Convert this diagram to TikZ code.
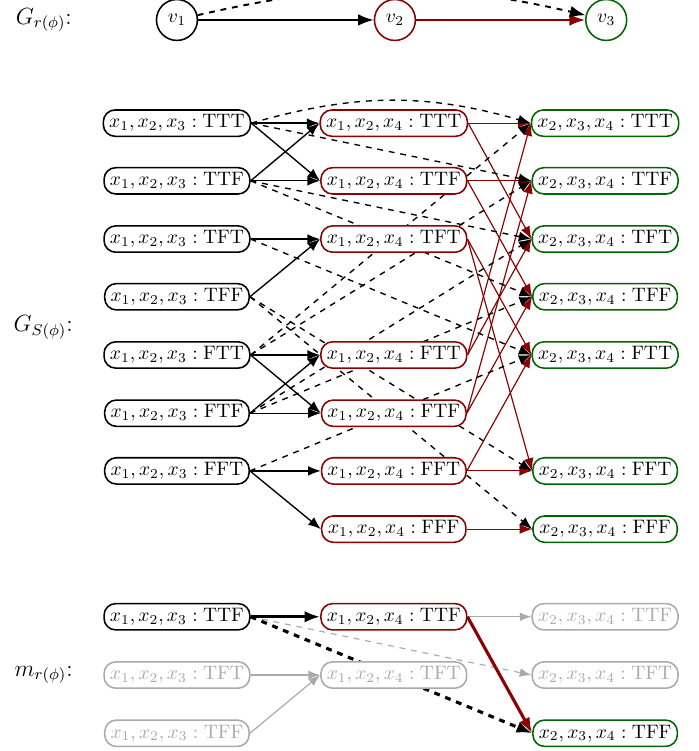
\documentclass[tikz,border=0pt]{standalone}
\usepackage{xcolor}
\usetikzlibrary{arrows.meta,backgrounds}
\definecolor{PhiRed}{HTML}{8B0000}
\definecolor{PhiGreen}{HTML}{006400}
\definecolor{PhiGray}{HTML}{AAAAAA}
\newcommand{\asgL}[1]{$x_1,x_2,x_3:\mathrm{#1}$}
\newcommand{\asgM}[1]{$x_1,x_2,x_4:\mathrm{#1}$}
\newcommand{\asgR}[1]{$x_2,x_3,x_4:\mathrm{#1}$}
\tikzset{
  var/.style={circle, draw, line width=.8pt, fill=white, minimum size=21pt, inner sep=0pt},
  assign/.style={draw, rounded corners=6pt, line width=.8pt, fill=white, minimum width=74pt, minimum height=13.5pt, inner xsep=3pt, inner ysep=1.5pt},
  faded/.style={draw=PhiGray, text=PhiGray},
  link/.style={-{Latex[length=6.5pt,width=5pt]}, line width=.7pt},
  skip/.style={-{Latex[length=6.5pt,width=5pt]}, line width=.7pt, dashed},
  hop/.style={-{Latex[length=6.5pt,width=5pt]}, line width=.6pt, draw=PhiRed},
  dim/.style={-{Latex[length=6pt,width=4.5pt]}, line width=.6pt, draw=PhiGray},
  heavy/.style={-{Latex[length=8pt,width=6pt]}, line width=1.6pt},
  top/.style={-{Latex[length=8pt,width=6pt]}, line width=1pt},
}
\begin{document}
\begin{tikzpicture}
  \useasboundingbox (0,0) rectangle (12.60,-13.54);
  % labels
  \node[anchor=west, font=\large] (lab1) at (0.16,-0.36) {$G_{r(\phi)}$:};
  \node[anchor=west, font=\large] (lab2) at (0.12,-5.9) {$G_{S(\phi)}$:};
  \node[anchor=west, font=\large] (lab3) at (0.14,-12.17) {$m_{r(\phi)}$:};
  % variable graph
  \node[var] (v1) at (3.19,-0.36) {$v_1$};
  \node[var, draw=PhiRed] (v2) at (7.12,-0.36) {$v_2$};
  \node[var, draw=PhiGreen] (v3) at (10.93,-0.36) {$v_3$};
  \draw[top] (v1) -- (v2);
  \draw[top, draw=PhiRed] (v2) -- (v3);
  \draw[top, dashed] (v1) to[bend left=13] (v3);
  % factor graph, left column
  \node[assign] (lTTT) at (3.19,-2.22) {\asgL{TTT}};
  \node[assign] (lTTF) at (3.19,-3.26) {\asgL{TTF}};
  \node[assign] (lTFT) at (3.19,-4.31) {\asgL{TFT}};
  \node[assign] (lTFF) at (3.19,-5.35) {\asgL{TFF}};
  \node[assign] (lFTT) at (3.19,-6.40) {\asgL{FTT}};
  \node[assign] (lFTF) at (3.19,-7.45) {\asgL{FTF}};
  \node[assign] (lFFT) at (3.19,-8.49) {\asgL{FFT}};
  % middle column
  \node[assign, draw=PhiRed] (mTTT) at (7.10,-2.22) {\asgM{TTT}};
  \node[assign, draw=PhiRed] (mTTF) at (7.10,-3.26) {\asgM{TTF}};
  \node[assign, draw=PhiRed] (mTFT) at (7.10,-4.31) {\asgM{TFT}};
  \node[assign, draw=PhiRed] (mFTT) at (7.10,-6.40) {\asgM{FTT}};
  \node[assign, draw=PhiRed] (mFTF) at (7.10,-7.45) {\asgM{FTF}};
  \node[assign, draw=PhiRed] (mFFT) at (7.10,-8.49) {\asgM{FFT}};
  \node[assign, draw=PhiRed] (mFFF) at (7.10,-9.54) {\asgM{FFF}};
  % right column
  \node[assign, draw=PhiGreen] (rTTT) at (10.91,-2.22) {\asgR{TTT}};
  \node[assign, draw=PhiGreen] (rTTF) at (10.91,-3.26) {\asgR{TTF}};
  \node[assign, draw=PhiGreen] (rTFT) at (10.91,-4.31) {\asgR{TFT}};
  \node[assign, draw=PhiGreen] (rTFF) at (10.91,-5.35) {\asgR{TFF}};
  \node[assign, draw=PhiGreen] (rFTT) at (10.91,-6.40) {\asgR{FTT}};
  \node[assign, draw=PhiGreen] (rFFT) at (10.91,-8.49) {\asgR{FFT}};
  \node[assign, draw=PhiGreen] (rFFF) at (10.91,-9.54) {\asgR{FFF}};
  % matching
  \node[assign] (bTTF) at (3.19,-11.12) {\asgL{TTF}};
  \node[assign, faded] (bTFT) at (3.19,-12.17) {\asgL{TFT}};
  \node[assign, faded] (bTFF) at (3.19,-13.22) {\asgL{TFF}};
  \node[assign, draw=PhiRed] (cTTF) at (7.10,-11.12) {\asgM{TTF}};
  \node[assign, faded] (cTFT) at (7.10,-12.17) {\asgM{TFT}};
  \node[assign, faded] (dTTF) at (10.91,-11.12) {\asgR{TTF}};
  \node[assign, faded] (dTFT) at (10.91,-12.17) {\asgR{TFT}};
  \node[assign, draw=PhiGreen] (dTFF) at (10.91,-13.22) {\asgR{TFF}};
  \begin{scope}[on background layer]
    % x1,x2 agree
    \draw[link] (lTTT.east) -- (mTTT.west);
    \draw[link] (lTTT.east) -- (mTTF.west);
    \draw[link] (lTTF.east) -- (mTTT.west);
    \draw[link] (lTTF.east) -- (mTTF.west);
    \draw[link] (lTFT.east) -- (mTFT.west);
    \draw[link] (lTFF.east) -- (mTFT.west);
    \draw[link] (lFTT.east) -- (mFTT.west);
    \draw[link] (lFTT.east) -- (mFTF.west);
    \draw[link] (lFTF.east) -- (mFTT.west);
    \draw[link] (lFTF.east) -- (mFTF.west);
    \draw[link] (lFFT.east) -- (mFFT.west);
    \draw[link] (lFFT.east) -- (mFFF.west);
    % x2,x4 agree
    \draw[hop] (mTTT.east) -- (rTTT.west);
    \draw[hop] (mTTT.east) -- (rTFT.west);
    \draw[hop] (mTTF.east) -- (rTTF.west);
    \draw[hop] (mTTF.east) -- (rTFF.west);
    \draw[hop] (mTFT.east) -- (rFTT.west);
    \draw[hop] (mTFT.east) -- (rFFT.west);
    \draw[hop] (mFTT.east) -- (rTTT.west);
    \draw[hop] (mFTT.east) -- (rTFT.west);
    \draw[hop] (mFTF.east) -- (rTTF.west);
    \draw[hop] (mFTF.east) -- (rTFF.west);
    \draw[hop] (mFFT.east) -- (rFTT.west);
    \draw[hop] (mFFT.east) -- (rFFT.west);
    \draw[hop] (mFFF.east) -- (rFFF.west);
    % x2,x3 agree
    \draw[skip] (lTTT.east) to[bend left=16] (rTTT.west);
    \draw[skip] (lTTT.east) -- (rTTF.west);
    \draw[skip] (lTTF.east) -- (rTFT.west);
    \draw[skip] (lTTF.east) -- (rTFF.west);
    \draw[skip] (lTFT.east) -- (rFTT.west);
    \draw[skip] (lTFF.east) -- (rFFT.west);
    \draw[skip] (lTFF.east) -- (rFFF.west);
    \draw[skip] (lFTT.east) -- (rTTT.west);
    \draw[skip] (lFTT.east) -- (rTTF.west);
    \draw[skip] (lFTF.east) -- (rTFT.west);
    \draw[skip] (lFTF.east) -- (rTFF.west);
    \draw[skip] (lFFT.east) -- (rFTT.west);
    % matching edges
    \draw[dim] (bTFT.east) -- (cTFT.west);
    \draw[dim] (bTFF.east) -- (cTFT.west);
    \draw[dim] (cTTF.east) -- (dTTF.west);
    \draw[dim, dashed] (bTTF.east) -- (dTFT.west);
    \draw[heavy] (bTTF.east) -- (cTTF.west);
    \draw[heavy, dashed] (bTTF.east) -- (dTFF.west);
    \draw[heavy, draw=PhiRed, fill=PhiRed] (cTTF.east) -- (dTFF.west);
  \end{scope}
\end{tikzpicture}
\end{document}
